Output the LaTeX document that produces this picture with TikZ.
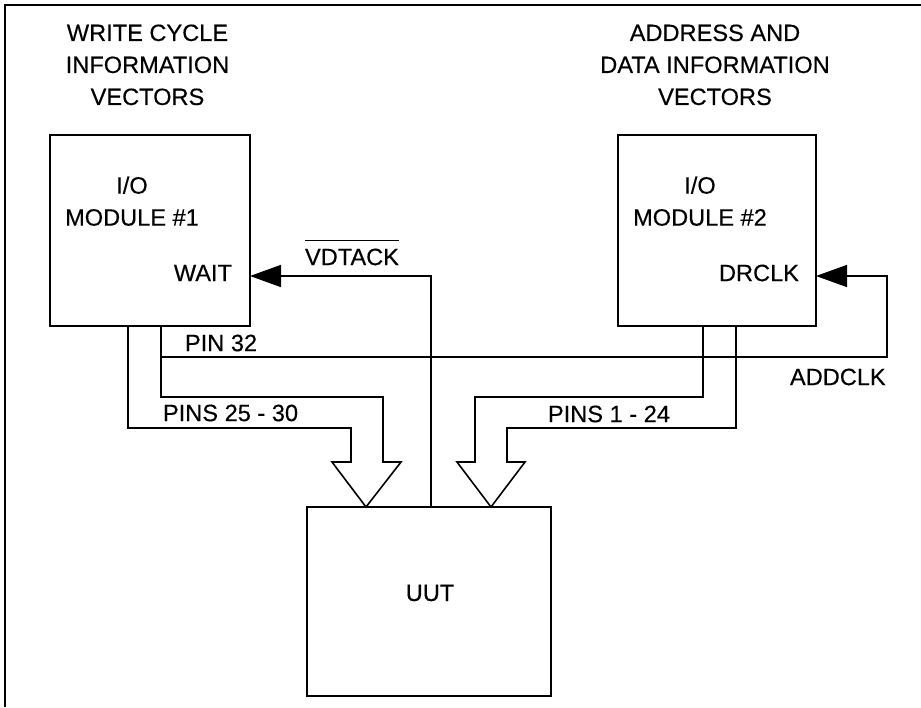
\documentclass[tikz,border=0pt]{standalone}
\usepackage{fontspec}
\setmainfont{Liberation Sans}[FakeBold=0.35]
\usetikzlibrary{arrows.meta,calc}
\begin{document}
\begin{tikzpicture}[x=0.5pt,y=-0.5pt,
  every node/.style={inner sep=0pt, outer sep=0pt, font=\fontsize{11.8}{16}\selectfont},
  box/.style={draw, line width=0.9pt, rectangle},
  wire/.style={draw, line width=0.8pt, line join=miter},
  bus/.style={draw, line width=0.8pt, line join=miter},
  sig/.style={wire, -{Triangle[length=15.5pt,width=11pt]}},
  lbl/.style={anchor=west}
]
\useasboundingbox (0,0) rectangle (921,707);
% frame
\draw[line width=1.1pt] (921,5) -- (5,5) -- (5,707);

% boxes
\node[box, minimum width=100pt, minimum height=95.5pt] (m1) at (150,230.5) {};
\node[box, minimum width=99pt, minimum height=95.5pt] (m2) at (717,230.5) {};
\node[box, minimum width=122pt, minimum height=94.5pt] (uut) at (429,601.5) {};

% titles
\node[anchor=north, align=center] (t1) at (147.5,24.5) {WRITE CYCLE\\INFORMATION\\VECTORS};
\node[anchor=north, align=center] (t2) at (715,24.5) {ADDRESS AND\\DATA INFORMATION\\VECTORS};

% box texts
\node[anchor=north, align=center] (m1t) at (132,176.5) {I/O\\MODULE \#1};
\node[anchor=north, align=center] (m2t) at (700,176.5) {I/O\\MODULE \#2};
\node[anchor=east] (wait) at (232,273) {WAIT};
\node[anchor=east] (drclk) at (799,273) {DRCLK};
\node (uutt) at (430,593) {UUT};

% labels
\node (vd) at (352,257) {VDTACK};
\draw[line width=0.7pt] ($(vd.north west)+(0,-8)$) -- ($(vd.north east)+(0,-8)$);
\node[lbl] (p32) at (185,343) {PIN 32};
\node[lbl] (p2530) at (163,413) {PINS 25 - 30};
\node[lbl] (p124) at (548,414) {PINS 1 - 24};
\node[lbl] (addclk) at (790,377) {ADDCLK};

% tips on UUT
\coordinate (tip1) at ($(uut.north west)+(59,0)$);
\coordinate (tip2) at ($(uut.north west)+(184,0)$);
\coordinate (w1) at ($(m1.east)+(0,45.5)$);
\coordinate (d2) at ($(m2.east)+(0,45.5)$);
\coordinate (vdbot) at ($(uut.north west)+(124,0)$);

% bus 1
\draw[bus] ($(m1.south west)+(78,0)$) -- (128,428) -- (351,428) -- (351,462) -- (332,462)
  -- (tip1) -- (401,462) -- (383,462) -- (383,397) -- (161,397) -- ($(m1.south west)+(111,0)$);
% bus 2
\draw[bus] ($(m2.south west)+(85,0)$) -- (703,397) -- (475,397) -- (475,462) -- (457,462)
  -- (tip2) -- (525,462) -- (507,462) -- (507,428) -- (736,428) -- ($(m2.south west)+(118,0)$);

% VDTACK
\draw[sig] (vdbot) -- (431,276) -- (w1);
% PIN 32 / ADDCLK
\draw[sig] (161,357) -- (887,357) -- (887,276) -- (d2);
\end{tikzpicture}
\end{document}
